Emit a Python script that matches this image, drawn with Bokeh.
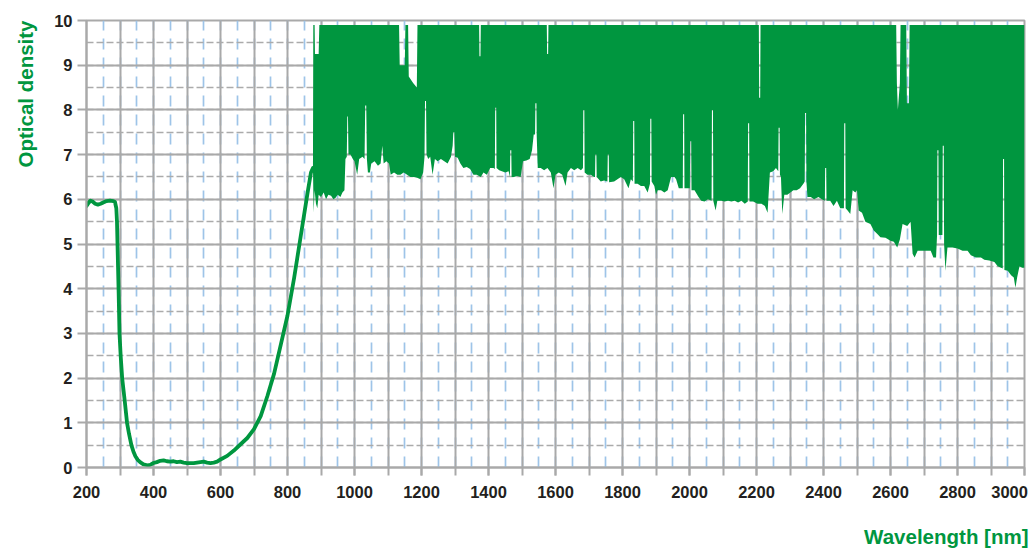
from bokeh.plotting import figure
from bokeh.models import SingleIntervalTicker, FixedTicker, Title, Range1d, LinearAxis
from bokeh.embed import file_html
from bokeh.resources import INLINE

# ---------------- data ----------------
# smooth part of the optical density curve (nm, OD)
curve_nm = [200, 206, 212, 218, 226, 234, 242, 250, 260, 270, 280, 285, 289, 291, 293,
            296, 298.5, 302, 306.5, 314, 321, 327, 334, 340, 346, 353, 360, 370, 382,
            390, 400, 410, 420, 430, 440, 450, 460, 470, 480, 490, 500, 510, 520, 530,
            540, 550, 560, 570, 580, 590, 600, 620, 640, 660, 680, 700, 720, 740, 760,
            780, 800, 820, 840, 860, 870, 876]
curve_od = [5.85, 5.92, 5.97, 5.95, 5.9, 5.88, 5.9, 5.93, 5.96, 5.97, 5.96, 5.94, 5.8, 5.5, 4.85,
            3.9, 3.0, 2.5, 2.0, 1.5, 1.0, 0.75, 0.5, 0.36, 0.25, 0.17, 0.12, 0.07, 0.05,
            0.06, 0.1, 0.12, 0.15, 0.16, 0.14, 0.13, 0.14, 0.12, 0.13, 0.11, 0.1, 0.1, 0.1, 0.11,
            0.12, 0.13, 0.11, 0.1, 0.11, 0.13, 0.18, 0.26, 0.38, 0.52, 0.66, 0.86, 1.15, 1.6, 2.1,
            2.75, 3.4, 4.25, 5.2, 6.15, 6.6, 6.7]

# noisy region above ~876 nm: upper envelope (nm, OD)
upper_pairs = [(877, 9.9), (881, 9.9), (882, 9.25), (893, 9.25), (895, 9.9),
               (1133, 9.9), (1135, 9.0), (1150, 9.0), (1152, 9.9), (1160, 9.9),
               (1162, 8.75), (1175, 8.6), (1186, 8.5), (1188, 9.9),
               (1372, 9.9), (1373, 9.2), (1376, 9.2), (1377, 9.9),
               (1574, 9.9), (1575, 9.25), (1578, 9.25), (1579, 9.9),
               (2207, 9.9), (2208, 8.27), (2211, 8.27), (2212, 9.9),
               (2617, 9.9), (2619, 8.6), (2622, 8.0), (2628, 8.6), (2630, 9.9),
               (2647, 9.9), (2649, 8.15), (2655, 8.15), (2657, 9.9), (3000, 9.9)]

# noisy region: lower envelope (nm, OD)
lower_pairs = [
    (876, 6.7), (878, 5.7), (881, 6.2), (885, 5.9), (889, 5.8), (893, 6.1), (900, 6.05),
    (908, 6.15), (915, 6.0), (922, 6.1), (930, 6.08), (937, 6.0), (943, 6.03), (950, 6.1),
    (958, 6.05), (964, 6.15), (970, 6.2), (973, 6.9), (977, 6.95), (978.5, 7.85), (980.5, 7.85),
    (982, 7.0), (988, 7.0), (995, 6.9), (1000, 6.85), (1008, 6.55), (1014, 6.9), (1024, 6.95),
    (1030, 6.9), (1032, 8.1), (1035, 8.1), (1037, 6.9), (1040, 6.6), (1046, 6.6), (1050, 6.8),
    (1060, 6.85), (1070, 6.75), (1078, 6.8), (1083, 7.2), (1087, 6.8), (1095, 6.85), (1103, 6.8),
    (1108, 6.55), (1118, 6.6), (1128, 6.55), (1137, 6.55), (1147, 6.6), (1157, 6.55), (1167, 6.5),
    (1177, 6.5), (1187, 6.48), (1197, 6.45), (1205, 6.6), (1209, 6.95), (1210.5, 8.2), (1213.5, 8.2),
    (1215, 7.0), (1220, 6.9), (1226, 6.95), (1233, 6.55), (1240, 6.9), (1248, 6.85), (1258, 6.9),
    (1268, 6.85), (1278, 6.8), (1288, 6.95), (1293, 7.2), (1295, 7.5), (1298, 7.5), (1300, 6.95),
    (1308, 6.93), (1316, 6.8), (1325, 6.7), (1335, 6.72), (1345, 6.68), (1355, 6.55), (1365, 6.55),
    (1377, 6.5), (1385, 6.6), (1395, 6.55), (1405, 6.7), (1415, 6.7), (1419, 6.68), (1420, 8.05),
    (1423, 8.05), (1424, 6.7), (1432, 6.65), (1440, 6.63), (1450, 6.6), (1460, 6.63), (1464, 6.5),
    (1465, 7.1), (1468, 7.1), (1469, 6.5), (1476, 6.5), (1486, 6.52), (1496, 6.5), (1503, 6.85),
    (1513, 6.87), (1523, 6.9), (1530, 7.1), (1535, 7.45), (1539, 7.45), (1540, 8.15), (1543, 8.15),
    (1544, 7.4), (1547, 6.7), (1556, 6.7), (1566, 6.65), (1576, 6.7), (1586, 6.6), (1594, 6.25),
    (1600, 6.55), (1610, 6.6), (1620, 6.55), (1630, 6.3), (1636, 6.6), (1646, 6.7), (1656, 6.65),
    (1666, 6.7), (1676, 6.65), (1682, 6.7), (1683, 8.0), (1686, 8.0), (1687, 6.6), (1695, 6.55),
    (1705, 6.55), (1715, 6.5), (1718, 6.5), (1719, 7.0), (1722, 7.0), (1723, 6.5), (1735, 6.4),
    (1745, 6.42), (1755, 6.4), (1756, 7.0), (1759, 7.0), (1760, 6.38), (1775, 6.4), (1785, 6.45),
    (1795, 6.5), (1805, 6.45), (1818, 6.25), (1825, 6.45), (1831, 6.4), (1832, 7.75), (1835, 7.75),
    (1836, 6.35), (1845, 6.35), (1855, 6.3), (1865, 6.3), (1875, 6.15), (1882, 6.35), (1883, 7.8),
    (1886, 7.8), (1887, 6.4), (1895, 6.3), (1900, 6.1), (1905, 6.2), (1915, 6.2), (1925, 6.15),
    (1935, 6.2), (1945, 6.5), (1955, 6.5), (1960, 6.45), (1968, 6.25), (1975, 6.25), (1980, 6.25),
    (1981, 7.9), (1984, 7.9), (1985, 6.25), (1995, 6.25), (2001, 6.25), (2002, 7.3), (2005, 7.3),
    (2006, 6.2), (2015, 6.2), (2027, 6.05), (2035, 5.97), (2045, 5.95), (2055, 6.0), (2066, 5.97),
    (2067, 8.0), (2070, 8.0), (2071, 5.97), (2078, 5.75), (2083, 5.97), (2095, 5.97), (2105, 5.95),
    (2115, 5.97), (2125, 5.95), (2135, 5.97), (2145, 5.93), (2155, 5.97), (2165, 5.9), (2174, 5.95),
    (2175, 7.7), (2178, 7.7), (2179, 5.95), (2190, 5.95), (2203, 5.9), (2215, 5.9), (2225, 5.85),
    (2233, 5.7), (2240, 6.6), (2250, 6.63), (2258, 6.7), (2265, 6.63), (2266, 7.6), (2269, 7.6),
    (2270, 6.55), (2273, 6.5), (2277, 5.67), (2283, 6.1), (2292, 6.1), (2301, 6.15), (2310, 6.2),
    (2320, 6.2), (2330, 6.25), (2340, 6.35), (2344, 6.4), (2345, 7.93), (2348, 7.93), (2349, 6.4),
    (2352, 6.05), (2362, 6.05), (2372, 6.0), (2385, 6.05), (2395, 6.0), (2404, 5.97), (2405, 6.7),
    (2408, 6.7), (2409, 5.97), (2420, 5.97), (2430, 5.85), (2440, 5.97), (2450, 5.8), (2461, 5.8),
    (2462, 7.7), (2465, 7.7), (2466, 5.8), (2472, 5.75), (2480, 5.67), (2487, 6.2), (2495, 6.15),
    (2500, 6.2), (2505, 5.75), (2515, 5.7), (2525, 5.5), (2540, 5.45), (2550, 5.3), (2560, 5.23),
    (2570, 5.15), (2585, 5.14), (2600, 5.07), (2610, 5.05), (2620, 4.92), (2628, 5.1), (2636, 5.45),
    (2650, 5.4), (2660, 5.5), (2666, 4.78), (2672, 4.7), (2681, 4.85), (2700, 4.85), (2720, 4.85),
    (2728, 4.7), (2736, 4.7), (2739, 5.2), (2740, 7.1), (2743, 7.1), (2744, 5.2), (2755, 5.2),
    (2756, 7.2), (2759, 7.2), (2760, 5.0), (2764, 4.4), (2770, 4.92), (2785, 4.92), (2800, 4.9),
    (2815, 4.85), (2830, 4.85), (2840, 4.75), (2855, 4.7), (2870, 4.7), (2880, 4.65), (2895, 4.63),
    (2910, 4.6), (2920, 4.5), (2930, 4.47), (2935, 4.45), (2936, 6.9), (2939, 6.9), (2940, 4.42),
    (2950, 4.4), (2960, 4.3), (2968, 4.25), (2973, 4.02), (2978, 4.25), (2985, 4.5), (2993, 4.47),
    (3000, 4.47)]

x_labels = {3000: "3000" + "\u00a0"}

# ---------------- styling ----------------
GREEN = "#00963f"
GRID = "#a9a9a9"
DASH_GRID = "#ababab"
BLUE = "#9ec4e8"
TEXT = "#231f20"
FONT = "Liberation Sans"

p = figure(width=1032, height=551, output_backend="svg", toolbar_location=None,
           x_range=Range1d(200, 3000), y_range=Range1d(0, 10),
           min_border_left=86, min_border_right=8, min_border_top=20, min_border_bottom=84)
p.background_fill_color = "white"
p.border_fill_color = "white"
p.outline_line_color = GRID
p.outline_line_width = 2

p.xgrid.ticker = SingleIntervalTicker(interval=100, num_minor_ticks=2)
p.xgrid.grid_line_color = GRID
p.xgrid.grid_line_width = 2
p.xgrid.minor_grid_line_color = BLUE
p.xgrid.minor_grid_line_width = 1.7
p.xgrid.minor_grid_line_dash = "11 8"

p.ygrid.ticker = SingleIntervalTicker(interval=1, num_minor_ticks=2)
p.ygrid.grid_line_color = GRID
p.ygrid.grid_line_width = 2
p.ygrid.minor_grid_line_color = DASH_GRID
p.ygrid.minor_grid_line_width = 1.5
p.ygrid.minor_grid_line_dash = "7 3"

for ax in (p.xaxis[0], p.yaxis[0]):
    ax.axis_line_color = GRID
    ax.axis_line_width = 2
    ax.major_tick_line_color = GRID
    ax.major_tick_line_width = 2
    ax.minor_tick_line_color = GRID
    ax.minor_tick_line_width = 2
    ax.major_tick_in = 0
    ax.minor_tick_in = 0
    ax.major_label_text_font = FONT
    ax.major_label_text_font_size = "16.5px"
    ax.major_label_text_font_style = "bold"
    ax.major_label_text_color = TEXT

p.xaxis.ticker = SingleIntervalTicker(interval=200, num_minor_ticks=2)
p.xaxis.major_tick_out = 8
p.xaxis.minor_tick_out = 8
p.xaxis.major_label_standoff = 7
p.xaxis.major_label_overrides = x_labels

p.yaxis.ticker = FixedTicker(ticks=list(range(0, 11)))
p.yaxis.major_tick_out = 9
p.yaxis.minor_tick_out = 0
p.yaxis.major_label_standoff = 5


def spacer(size, at):
    # blank axis (white tick, empty label) that only reserves room before a title
    return LinearAxis(ticker=FixedTicker(ticks=[at]), major_tick_out=size, major_tick_in=0,
                      minor_tick_out=0, minor_tick_in=0, major_label_standoff=0,
                      major_label_overrides={at: ""},
                      axis_line_color="white", axis_line_alpha=0.0,
                      major_tick_line_color="white", major_tick_line_width=1,
                      minor_tick_line_color="white", major_label_text_font_size="1px")


ty = Title(text="Optical density", align="right", vertical_align="top", text_font=FONT,
           text_font_size="20.5px", text_font_style="bold", text_color=GREEN, standoff=26)
p.add_layout(ty, "left")

p.add_layout(spacer(16, 1000), "below")
tx = Title(text="Wavelength [nm]", align="right", vertical_align="bottom", offset=-4,
           text_font=FONT, text_font_size="20.5px", text_font_style="bold",
           text_color=GREEN, standoff=6)
p.add_layout(tx, "below")

# ---------------- glyphs ----------------
up_x = [a for a, b in upper_pairs]
up_y = [b for a, b in upper_pairs]
lo_x = [a for a, b in lower_pairs]
lo_y = [b for a, b in lower_pairs]
p.patch(up_x + lo_x[::-1], up_y + lo_y[::-1], fill_color=GREEN, line_color=None)
p.line(curve_nm, curve_od, line_color=GREEN, line_width=3.8, line_join="round", line_cap="round")

open("out.html", "w").write(file_html(p, INLINE))
